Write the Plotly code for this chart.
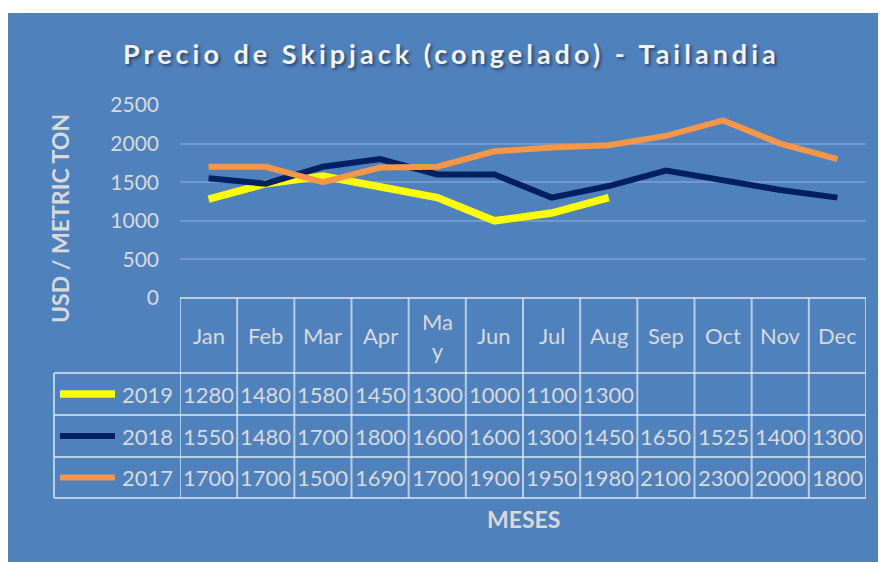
import plotly.graph_objects as go

months = ["Jan", "Feb", "Mar", "Apr", "May", "Jun", "Jul", "Aug", "Sep", "Oct", "Nov", "Dec"]
month_labels = ["Jan", "Feb", "Mar", "Apr", "Ma<br>y", "Jun", "Jul", "Aug", "Sep", "Oct", "Nov", "Dec"]
series_names = ["2019", "2018", "2017"]
v2019 = [1280, 1480, 1580, 1450, 1300, 1000, 1100, 1300, None, None, None, None]
v2018 = [1550, 1480, 1700, 1800, 1600, 1600, 1300, 1450, 1650, 1525, 1400, 1300]
v2017 = [1700, 1700, 1500, 1690, 1700, 1900, 1950, 1980, 2100, 2300, 2000, 1800]
series_values = [v2019, v2018, v2017]
series_colors = ["#FFFF00", "#002060", "#F79646"]
series_widths = [7.5, 6, 6]
y_ticks = [0, 500, 1000, 1500, 2000, 2500]

title_text = "Precio de Skipjack (congelado) - Tailandia"
y_title = "USD / METRIC TON"
x_title = "MESES"

OFF = 8  # page body margin
W, H = 886 - OFF, 562 - OFF
# plot area in screen pixels
SL, SR, ST, SB = 180, 866, 105, 298
L, R, T, B = SL - OFF, SR - OFF, ST - OFF, SB - OFF
PW, PH = R - L, B - T
BG = "#4F81BD"
TXT = "#D9D9D9"
FONT = "Lato"
BORDER = "rgba(230,236,245,0.7)"


def px(xs):
    return (xs - SL) / PW


def py(ys):
    return (SB - ys) / PH


fig = go.Figure()
for name, vals, col, w in zip(series_names, series_values, series_colors, series_widths):
    fig.add_trace(go.Scatter(x=months, y=vals, mode="lines", name=name,
                             line=dict(color=col, width=w), connectgaps=False,
                             showlegend=False))

shapes = []
shapes.append(dict(type="rect", xref="paper", yref="paper", x0=px(8), x1=px(900),
                   y0=py(13), y1=py(580), fillcolor=BG, line=dict(width=0), layer="below"))

header_bottom = 373
row_edges = [373, 415, 457, 498]
legend_left = 54

shapes.append(dict(type="line", xref="x", yref="paper", x0=-0.5, x1=11.5, y0=0, y1=0,
                   line=dict(color=BORDER, width=2)))
for ye in row_edges:
    shapes.append(dict(type="line", xref="paper", yref="paper", x0=px(legend_left), x1=1,
                       y0=py(ye), y1=py(ye), line=dict(color=BORDER, width=2)))
for i in range(13):
    shapes.append(dict(type="line", xref="x", yref="paper", x0=i - 0.5, x1=i - 0.5,
                       y0=0, y1=py(row_edges[-1]), line=dict(color=BORDER, width=2)))
shapes.append(dict(type="line", xref="paper", yref="paper", x0=px(legend_left), x1=px(legend_left),
                   y0=py(row_edges[0]), y1=py(row_edges[-1]), line=dict(color=BORDER, width=2)))

annotations = []
for m, lab in zip(months, month_labels):
    annotations.append(dict(x=m, y=py((SB + header_bottom) / 2), xref="x", yref="paper",
                            text=lab, showarrow=False, font=dict(family=FONT, size=22, color=TXT),
                            xanchor="center", yanchor="middle"))
for r, (name, vals, col, w) in enumerate(zip(series_names, series_values, series_colors, series_widths)):
    yc = py((row_edges[r] + row_edges[r + 1]) / 2)
    shapes.append(dict(type="line", xref="paper", yref="paper", x0=px(60), x1=px(115),
                       y0=yc, y1=yc, line=dict(color=col, width=w)))
    annotations.append(dict(x=px(175), y=yc, xref="paper", yref="paper", text=name,
                            showarrow=False, font=dict(family=FONT, size=22, color=TXT),
                            xanchor="right", yanchor="middle"))
    for m, v in zip(months, vals):
        if v is None:
            continue
        annotations.append(dict(x=m, y=yc, xref="x", yref="paper", text=str(v), showarrow=False,
                                font=dict(family=FONT, size=22, color=TXT),
                                xanchor="center", yanchor="middle"))

annotations.append(dict(x=px(451), y=py(54), xref="paper", yref="paper",
                        text='<span style="letter-spacing:4px">' + title_text + '</span>',
                        showarrow=False, xanchor="center", yanchor="middle",
                        font=dict(family=FONT, size=27, color="#F2F2F2", weight="bold",
                                  shadow="2px 2px 3px rgba(0,0,0,0.45)")))
annotations.append(dict(x=px(60), y=py(219), xref="paper", yref="paper", text=y_title,
                        showarrow=False, textangle=-90, xanchor="center", yanchor="middle",
                        font=dict(family=FONT, size=23, color=TXT, weight="bold")))
annotations.append(dict(x=px(523), y=py(519), xref="paper", yref="paper", text=x_title,
                        showarrow=False, xanchor="center", yanchor="middle",
                        font=dict(family=FONT, size=23, color=TXT, weight="bold")))

fig.update_layout(
    width=W, height=H,
    margin=dict(l=L, r=W - R, t=T, b=H - B, pad=0),
    paper_bgcolor="white", plot_bgcolor="rgba(0,0,0,0)",
    shapes=shapes, annotations=annotations,
    xaxis=dict(type="category", categoryorder="array", categoryarray=months,
               range=[-0.5, 11.5], showticklabels=False, showgrid=False, zeroline=False,
               showline=False, fixedrange=True),
    yaxis=dict(range=[0, 2500], tickvals=y_ticks, showgrid=True,
               gridcolor="rgba(255,255,255,0.2)", gridwidth=1.5, zeroline=False, showline=False,
               tickfont=dict(family=FONT, size=21, color=TXT), ticklabelstandoff=20),
    showlegend=False,
)

fig.write_html("out.html")
